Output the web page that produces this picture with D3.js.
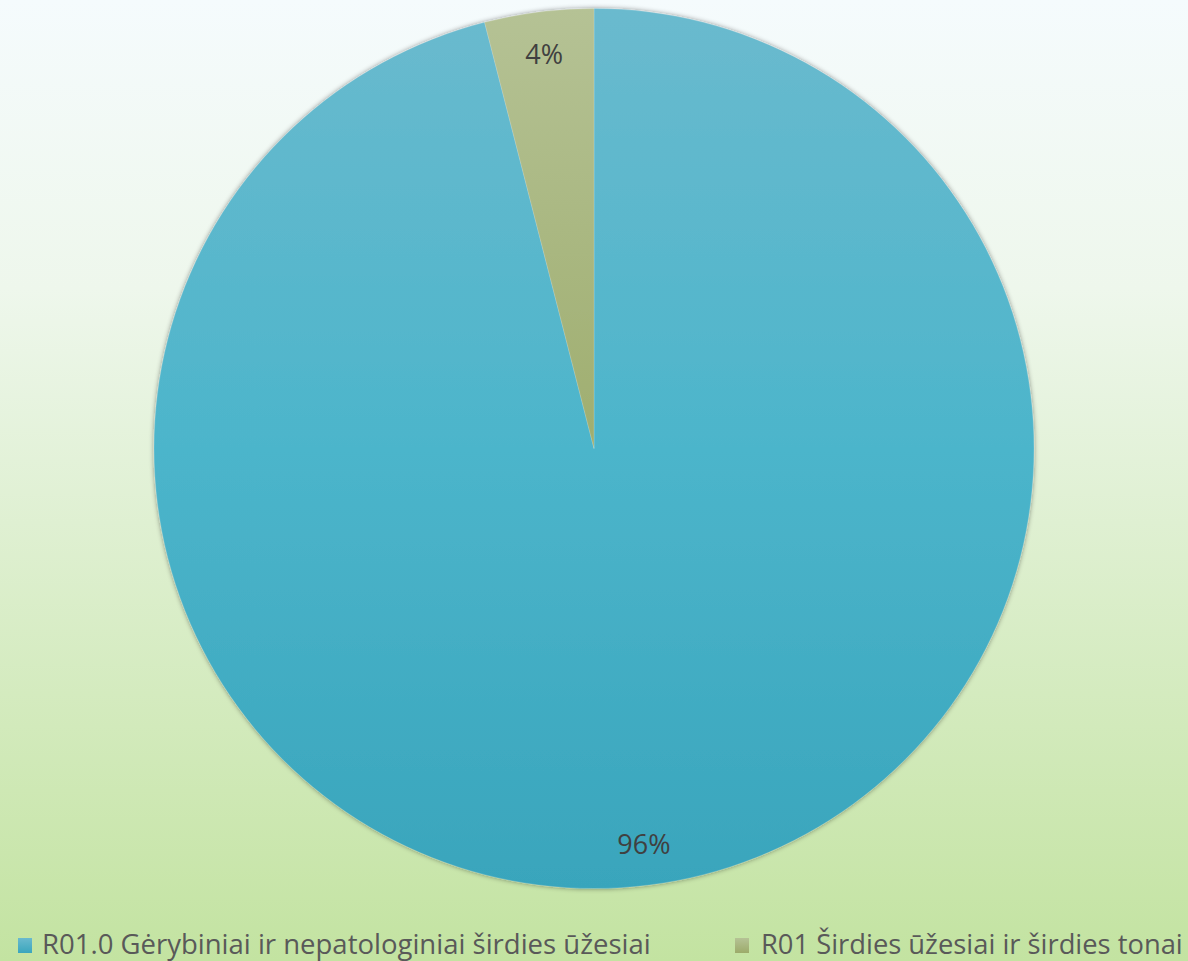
<!DOCTYPE html>
<html><head><meta charset="utf-8">
<script src="https://cdn.jsdelivr.net/npm/d3@7"></script>
<style>html,body{margin:0;padding:0;overflow:hidden}</style>
</head><body>
<script>
const categories = ["R01.0 Gėrybiniai ir nepatologiniai širdies ūžesiai", "R01 Širdies ūžesiai ir širdies tonai"];
const values = [96, 4];
const labels = ["96%", "4%"];

const W = 1188, H = 961;
const cx = 594, cy = 448.5, r = 440;
const svg = d3.select("body").append("svg").attr("width", W).attr("height", H);
const defs = svg.append("defs");

const bg = defs.append("linearGradient").attr("id", "bg").attr("x1", 0).attr("y1", 0).attr("x2", 0).attr("y2", 1);
bg.append("stop").attr("offset", 0).attr("stop-color", "#f5fbfd");
bg.append("stop").attr("offset", 0.3).attr("stop-color", "#eef7ec");
bg.append("stop").attr("offset", 1).attr("stop-color", "#c3e3a1");

function vgrad(id, c1, c2, c3) {
  const g = defs.append("linearGradient").attr("id", id).attr("gradientUnits", "userSpaceOnUse")
    .attr("x1", 0).attr("y1", -r).attr("x2", 0).attr("y2", r);
  g.append("stop").attr("offset", 0).attr("stop-color", c1);
  g.append("stop").attr("offset", 0.5).attr("stop-color", c2);
  g.append("stop").attr("offset", 1).attr("stop-color", c3);
}
vgrad("g0", "#6abace", "#4cb5cb", "#39a5bc");
vgrad("g1", "#b5c295", "#9fae6f", "#8d9c50");
const legGrad = (id, c1, c2) => {
  const g = defs.append("linearGradient").attr("id", id).attr("x1", 0).attr("y1", 0).attr("x2", 0).attr("y2", 1);
  g.append("stop").attr("offset", 0).attr("stop-color", c1);
  g.append("stop").attr("offset", 1).attr("stop-color", c2);
};
legGrad("l0", "#6abace", "#3aa6bd");
legGrad("l1", "#b5c295", "#9cab6a");

const f = defs.append("filter").attr("id", "sh").attr("x", "-5%").attr("y", "-5%").attr("width", "110%").attr("height", "110%");
f.append("feDropShadow").attr("dx", 0).attr("dy", 0).attr("stdDeviation", 2.5).attr("flood-color", "#000").attr("flood-opacity", 0.45);

svg.append("rect").attr("width", W).attr("height", H).attr("fill", "url(#bg)");

const pie = d3.pie().sort(null).value(d => d)(values);
const arc = d3.arc().innerRadius(0).outerRadius(r);
const g = svg.append("g").attr("transform", `translate(${cx},${cy})`);
g.append("g").attr("filter", "url(#sh)").selectAll("path").data(pie).join("path")
  .attr("d", arc)
  .attr("fill", (d, i) => `url(#g${i})`)
  .attr("stroke", "rgba(255,255,255,0.2)").attr("stroke-width", 0.8);

const lab = d3.arc().innerRadius(r * 0.905).outerRadius(r * 0.905);
g.selectAll("text.lbl").data(pie).join("text").attr("class", "lbl")
  .attr("transform", d => `translate(${lab.centroid(d)})`)
  .attr("text-anchor", "middle").attr("dominant-baseline", "central")
  .attr("font-family", "Open Sans").attr("font-size", 27).attr("fill", "#404040")
  .text((d, i) => labels[i]);

const legX = [18, 735], legTextX = [42, 761], legW = [609, 422];
const lg = svg.append("g");
categories.forEach((c, i) => {
  lg.append("rect").attr("x", legX[i]).attr("y", 938).attr("width", 14).attr("height", 15).attr("fill", `url(#l${i})`);
  const t = lg.append("text").attr("x", legTextX[i]).attr("y", 954)
    .attr("font-family", "Open Sans").attr("font-size", 28).attr("fill", "#595959").text(c);
  const len = t.node().getComputedTextLength();
  t.attr("font-size", 28 * legW[i] / len);
});
</script>
</body></html>
